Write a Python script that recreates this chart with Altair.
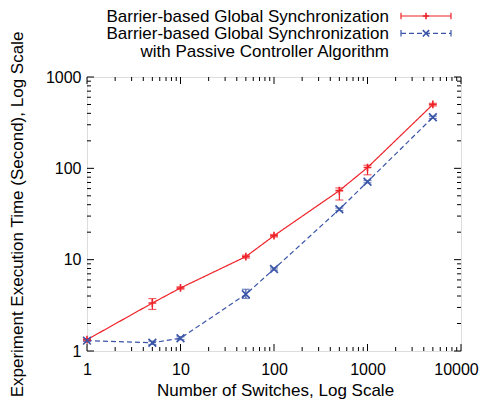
import altair as alt
import pandas as pd

# ---------------- data ----------------
switches = [1, 5, 10, 50, 100, 500, 1000, 5000]

barrier_time = [1.33, 3.35, 4.9, 10.8, 18.3, 57, 102, 500]
barrier_low = [1.29, 2.85, 4.75, 10.4, 17.7, 45, 85, 482]
barrier_high = [1.37, 3.75, 5.05, 11.2, 18.9, 61, 108, 515]

passive_time = [1.30, 1.23, 1.38, 4.18, 7.9, 35.6, 71.4, 362]
passive_low = [1.27, 1.18, 1.33, 3.77, 7.7, 34.5, 69.5, 352]
passive_high = [1.33, 1.28, 1.43, 4.74, 8.1, 36.7, 73.5, 372]

series_names = [
    "Barrier-based Global Synchronization",
    "Barrier-based Global Synchronization with Passive Controller Algorithm",
]
legend_lines = [
    "Barrier-based Global Synchronization",
    "Barrier-based Global Synchronization",
    "with Passive Controller Algorithm",
]
series_colors = ["#ee2229", "#3a55a8"]

x_major = [1, 10, 100, 1000, 10000]
x_minor = [m * d for d in [1, 10, 100, 1000] for m in range(2, 10)]
y_major = [1, 10, 100, 1000]
y_minor = [m * d for d in [1, 10, 100] for m in range(2, 10)]

# ---------------- layout constants ----------------
W, H = 374, 274
FONT = "Liberation Sans"
MAJ, MIN = 7, 4

PLUS = "M-1,0H1M0,-1V1"
CROSS = "M-1,-1L1,1M-1,1L1,-1"

rows = []
for n, t, lo, hi in zip(switches, barrier_time, barrier_low, barrier_high):
    rows.append(dict(n=n, t=t, lo=lo, hi=hi, series=series_names[0]))
for n, t, lo, hi in zip(switches, passive_time, passive_low, passive_high):
    rows.append(dict(n=n, t=t, lo=lo, hi=hi, series=series_names[1]))
df = pd.DataFrame(rows)

xscale = alt.Scale(type="log", domain=[1, 10000], nice=False)
yscale = alt.Scale(type="log", domain=[1, 1000], nice=False)

xaxis = alt.Axis(
    values=x_major, format="d", ticks=False, domain=False, grid=False,
    labelFontSize=16, labelPadding=10, labelColor="black", labelFont=FONT,
    labelOffset={"condition": {"test": "datum.value == 10000", "value": -5}, "value": 0},
    title="Number of Switches, Log Scale", titleFontSize=17, titleFontWeight="normal",
    titleFont=FONT, titleColor="black", titleX=188, titleY=44, titleBaseline="alphabetic",
    titleAlign="center", labelFlush=False,
)
yaxis = alt.Axis(
    values=y_major, format="d", ticks=False, domain=False, grid=False,
    labelFontSize=16, labelPadding=6, labelColor="black", labelFont=FONT,
    title="Experiment Execution Time (Second), Log Scale", titleFontSize=17,
    titleFontWeight="normal", titleFont=FONT, titleColor="black",
    titleX=-70, titleY=H / 2, titleAngle=270, titleAlign="center", titleBaseline="middle",
    labelFlush=False,
)

color = alt.Color("series:N", scale=alt.Scale(domain=series_names, range=series_colors), legend=None)
X = alt.X("n:Q", scale=xscale, axis=xaxis)
Y = alt.Y("t:Q", scale=yscale, axis=yaxis)

base = alt.Chart(df)

lines = base.mark_line(strokeWidth=1.2).encode(
    x=X, y=Y, color=color,
    strokeDash=alt.StrokeDash("series:N", scale=alt.Scale(domain=series_names, range=[[1, 0], [5, 3]]), legend=None),
)
points = base.mark_point(filled=False, strokeWidth=1.6, size=60, opacity=1).encode(
    x=X, y=Y, color=color,
    shape=alt.Shape("series:N", scale=alt.Scale(domain=series_names, range=[PLUS, CROSS]), legend=None),
)
err = base.mark_rule(strokeWidth=1.2).encode(
    x=X, y=alt.Y("lo:Q", scale=yscale, axis=yaxis), y2="hi:Q", color=color,
)
cap_lo = base.mark_tick(orient="horizontal", size=8, thickness=1.2).encode(
    x=X, y=alt.Y("lo:Q", scale=yscale, axis=yaxis), color=color,
)
cap_hi = base.mark_tick(orient="horizontal", size=8, thickness=1.2).encode(
    x=X, y=alt.Y("hi:Q", scale=yscale, axis=yaxis), color=color,
)

# ---------------- inward ticks on all four sides ----------------
def xticks(vals, length):
    d = alt.Data(values=[{"v": v} for v in vals])
    xe = alt.X("v:Q", scale=xscale, axis=xaxis)
    bottom = alt.Chart(d).mark_rule(color="black", strokeWidth=1).encode(
        x=xe, y=alt.value(H), y2=alt.value(H - length))
    top = alt.Chart(d).mark_rule(color="black", strokeWidth=1).encode(
        x=xe, y=alt.value(0), y2=alt.value(length))
    return [bottom, top]

def yticks(vals, length):
    d = alt.Data(values=[{"v": v} for v in vals])
    ye = alt.Y("v:Q", scale=yscale, axis=yaxis)
    left = alt.Chart(d).mark_rule(color="black", strokeWidth=1).encode(
        y=ye, x=alt.value(0), x2=alt.value(length))
    right = alt.Chart(d).mark_rule(color="black", strokeWidth=1).encode(
        y=ye, x=alt.value(W), x2=alt.value(W - length))
    return [left, right]

tick_layers = xticks(x_major, MAJ) + xticks(x_minor, MIN) + yticks(y_major, MAJ) + yticks(y_minor, MIN)

# ---------------- legend (above the plot, top right) ----------------
one = alt.Data(values=[{"k": 0}])
LX0, LX1, LXM = 314, 364, 339
LTX = 302
row_y = [-61, -43.7]
text_base = [-55.3, -38, -20.3]

legend_layers = []
for txt, yb in zip(legend_lines, text_base):
    legend_layers.append(
        alt.Chart(one).mark_text(align="right", baseline="alphabetic", fontSize=17, font=FONT, color="black").encode(
            x=alt.value(LTX), y=alt.value(yb), text=alt.value(txt))
    )
for i, (ry, col) in enumerate(zip(row_y, series_colors)):
    dash = [1, 0] if i == 0 else [5, 3]
    legend_layers.append(
        alt.Chart(one).mark_rule(color=col, strokeWidth=1.2, strokeDash=dash).encode(
            x=alt.value(LX0), x2=alt.value(LX1), y=alt.value(ry))
    )
    for cx in (LX0, LX1):
        legend_layers.append(
            alt.Chart(one).mark_rule(color=col, strokeWidth=1.2).encode(
                x=alt.value(cx), y=alt.value(ry - 3.3), y2=alt.value(ry + 3.3))
        )
    legend_layers.append(
        alt.Chart(one).mark_point(shape=PLUS if i == 0 else CROSS, filled=False, color=col,
                                  strokeWidth=1.6, size=40, opacity=1).encode(
            x=alt.value(LXM), y=alt.value(ry))
    )

chart = alt.layer(
    lines, err, cap_lo, cap_hi, points, *tick_layers, *legend_layers
).properties(
    width=W, height=H,
    autosize=alt.AutoSizeParams(type="none"),
    padding={"left": 79, "top": 69, "right": 18, "bottom": 48},
).configure_view(
    stroke="black", strokeWidth=1
).configure(
    font=FONT, background="white"
)

chart.save("out.html", embed_options={"renderer": "svg", "actions": False})
